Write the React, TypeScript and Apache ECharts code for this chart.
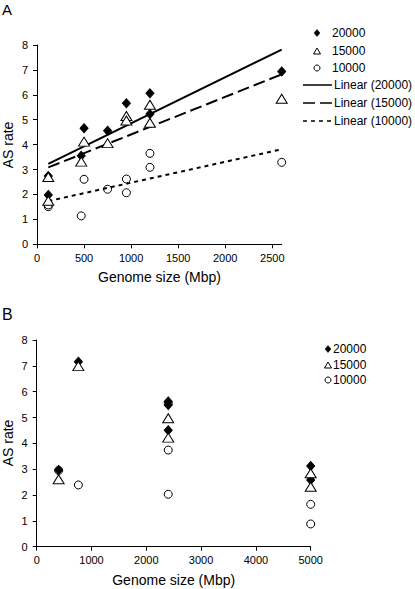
import React, { useEffect, useRef } from "react";
import * as echarts from "echarts";

// ---- Panel A data ----
const aGenome = [120, 120, 470, 500, 750, 950, 950, 1200, 1200, 2600];
const aRate20000 = [1.98, 2.74, 3.55, 4.66, 4.56, 5.66, 5.05, 6.06, 5.23, 6.94];
const aRate15000 = [2.7, 1.75, 3.32, 4.12, 4.06, 5.15, 4.97, 5.6, 4.88, 5.84];
const aRate10000 = [1.58, 1.51, 1.14, 2.61, 2.21, 2.62, 2.07, 3.65, 3.09, 3.29];

// ---- Panel B data ----
const bGenome20000 = [400, 760, 2400, 2400, 2400, 5000, 5000];
const bRate20000 = [2.97, 7.16, 5.62, 5.48, 4.51, 3.12, 2.58];
const bGenome15000 = [400, 760, 2400, 2400, 5000, 5000];
const bRate15000 = [2.61, 6.99, 4.97, 4.22, 2.84, 2.32];
const bGenome10000 = [400, 760, 2400, 2400, 2400, 5000, 5000];
const bRate10000 = [2.95, 2.39, 5.55, 3.74, 2.03, 1.64, 0.88];

const seriesNames = ["20000", "15000", "10000"];
const trendNames = ["Linear (20000)", "Linear (15000)", "Linear (10000)"];
const aXTicks = [0, 500, 1000, 1500, 2000, 2500];
const bXTicks = [0, 1000, 2000, 3000, 4000, 5000];
const yTicks = [0, 1, 2, 3, 4, 5, 6, 7, 8];
const xTitle = "Genome size (Mbp)";
const yTitle = "AS rate";

const FONT = '"Liberation Sans", Arial, Helvetica, sans-serif';

function pairs(xs: number[], ys: number[]) {
  return xs.map((x, i) => [x, ys[i]]);
}

function trend(xs: number[], ys: number[]) {
  const n = xs.length;
  const mx = xs.reduce((s, v) => s + v, 0) / n;
  const my = ys.reduce((s, v) => s + v, 0) / n;
  let sxy = 0;
  let sxx = 0;
  for (let i = 0; i < n; i++) {
    sxy += (xs[i] - mx) * (ys[i] - my);
    sxx += (xs[i] - mx) * (xs[i] - mx);
  }
  const slope = sxy / sxx;
  const b = my - slope * mx;
  const x0 = Math.min(...xs);
  const x1 = Math.max(...xs);
  return [
    [x0, b + slope * x0],
    [x1, b + slope * x1],
  ];
}

const axisCommon = {
  axisLine: { show: true, lineStyle: { color: "#000", width: 1 } },
  axisTick: { show: true, inside: false, length: 4, lineStyle: { color: "#000" } },
  splitLine: { show: false },
};

function diamond(cx: number, cy: number, w: number, h: number) {
  return [
    [cx, cy - h / 2],
    [cx + w / 2, cy],
    [cx, cy + h / 2],
    [cx - w / 2, cy],
  ];
}
function tri(cx: number, cy: number, w: number, h: number) {
  return [
    [cx, cy - h / 2],
    [cx + w / 2, cy + h / 2],
    [cx - w / 2, cy + h / 2],
  ];
}

function legendMarker(kind: number, cx: number, cy: number) {
  if (kind === 0)
    return {
      type: "polygon",
      shape: { points: diamond(cx, cy, 6, 7) },
      style: { fill: "#000", stroke: "#000", lineWidth: 0.5 },
    };
  if (kind === 1)
    return {
      type: "polygon",
      shape: { points: tri(cx, cy, 7, 6) },
      style: { fill: "none", stroke: "#000", lineWidth: 1 },
    };
  return {
    type: "circle",
    shape: { cx, cy, r: 3 },
    style: { fill: "none", stroke: "#000", lineWidth: 1 },
  };
}

function txt(text: string, x: number, y: number, size: number, extra: any = {}) {
  return {
    type: "text",
    x,
    y,
    style: {
      text,
      fill: "#000",
      font: `${size}px ${FONT}`,
      textAlign: "left",
      textVerticalAlign: "middle",
      ...(extra.style || {}),
    },
    ...(extra.props || {}),
  };
}

export default function App() {
  const ref = useRef<HTMLDivElement>(null);

  useEffect(() => {
    if (!ref.current) return;
    const chart = echarts.init(ref.current, undefined, { renderer: "svg" });

    const scatterStyle: any[] = [
      {
        symbol: "diamond",
        symbolSize: [8, 9],
        itemStyle: { color: "#000", borderColor: "#000", borderWidth: 1, opacity: 1 },
        z: 3,
      },
      {
        symbol: "triangle",
        symbolSize: [11, 9],
        itemStyle: { color: "#fff", borderColor: "#000", borderWidth: 1, opacity: 1 },
        z: 4,
      },
      {
        symbol: "circle",
        symbolSize: 8,
        itemStyle: { color: "rgba(0,0,0,0)", borderColor: "#000", borderWidth: 1, opacity: 1 },
        z: 2,
      },
    ];
    const aData = [aRate20000, aRate15000, aRate10000];
    const bX = [bGenome20000, bGenome15000, bGenome10000];
    const bData = [bRate20000, bRate15000, bRate10000];
    const dashTypes: any[] = ["solid", [12, 5], [4, 4]];

    const series: any[] = [];
    aData.forEach((ys, i) => {
      series.push({
        name: seriesNames[i],
        type: "scatter",
        xAxisIndex: 0,
        yAxisIndex: 0,
        data: pairs(aGenome, ys),
        ...scatterStyle[i],
      });
    });
    aData.forEach((ys, i) => {
      series.push({
        name: trendNames[i],
        type: "line",
        xAxisIndex: 0,
        yAxisIndex: 0,
        data: trend(aGenome, ys),
        symbol: "none",
        lineStyle: { color: "#000", width: 2, type: dashTypes[i] },
        z: 1,
      });
    });
    bData.forEach((ys, i) => {
      series.push({
        name: seriesNames[i] + " ",
        type: "scatter",
        xAxisIndex: 1,
        yAxisIndex: 1,
        data: pairs(bX[i], ys),
        ...scatterStyle[i],
      });
    });

    const graphics: any[] = [];
    graphics.push(txt("A", 2, 9, 15));
    graphics.push(txt("B", 2, 314, 16));
    graphics.push(txt(xTitle, 159.5, 277, 14, { style: { textAlign: "center" } }));
    graphics.push(txt(xTitle, 173.7, 580, 14, { style: { textAlign: "center" } }));
    graphics.push(
      txt(yTitle, 8, 145, 14, { style: { textAlign: "center" }, props: { rotation: Math.PI / 2 } })
    );
    graphics.push(
      txt(yTitle, 8, 443, 14, { style: { textAlign: "center" }, props: { rotation: Math.PI / 2 } })
    );
    const legAY = [33, 51, 68];
    seriesNames.forEach((n, i) => {
      graphics.push(legendMarker(i, 317, legAY[i]));
      graphics.push(txt(n, 332, legAY[i], 12));
    });
    const legALineY = [85, 103, 121];
    trendNames.forEach((n, i) => {
      graphics.push({
        type: "line",
        shape: { x1: 303, y1: legALineY[i], x2: 332, y2: legALineY[i] },
        style: { stroke: "#000", lineWidth: 1.5, lineDash: i === 0 ? null : dashTypes[i] },
      });
      graphics.push(txt(n, 334, legALineY[i], 12));
    });
    const legBY = [349, 365, 380];
    seriesNames.forEach((n, i) => {
      graphics.push(legendMarker(i, 328, legBY[i]));
      graphics.push(txt(n, 333, legBY[i], 12));
    });

    const label = (vals: number[], margin: number) => ({
      customValues: vals,
      fontSize: 11,
      color: "#000",
      margin,
      fontFamily: FONT,
      formatter: (v: number) => String(v),
    });

    chart.setOption({
      animation: false,
      backgroundColor: "#fff",
      textStyle: { fontFamily: FONT, color: "#000" },
      grid: [
        { left: 37, top: 45, width: 244.7, height: 199.3 },
        { left: 36.7, top: 340, width: 274, height: 206.7 },
      ],
      xAxis: [
        {
          type: "value",
          gridIndex: 0,
          min: 0,
          max: 2600,
          interval: 500,
          ...axisCommon,
          axisTick: { ...axisCommon.axisTick, customValues: aXTicks },
          axisLabel: label(aXTicks, 8),
        },
        {
          type: "value",
          gridIndex: 1,
          min: 0,
          max: 5000,
          interval: 1000,
          ...axisCommon,
          axisTick: { ...axisCommon.axisTick, customValues: bXTicks },
          axisLabel: label(bXTicks, 8),
        },
      ],
      yAxis: [0, 1].map((g) => ({
        type: "value",
        gridIndex: g,
        min: 0,
        max: 8,
        interval: 1,
        ...axisCommon,
        axisTick: { ...axisCommon.axisTick, customValues: yTicks },
        axisLabel: label(yTicks, 9),
      })),
      series,
      graphic: graphics,
    });

    return () => chart.dispose();
  }, []);

  return (
    <div
      ref={ref}
      style={{ position: "fixed", left: 0, top: 0, width: 415, height: 589, background: "#fff" }}
    />
  );
}
